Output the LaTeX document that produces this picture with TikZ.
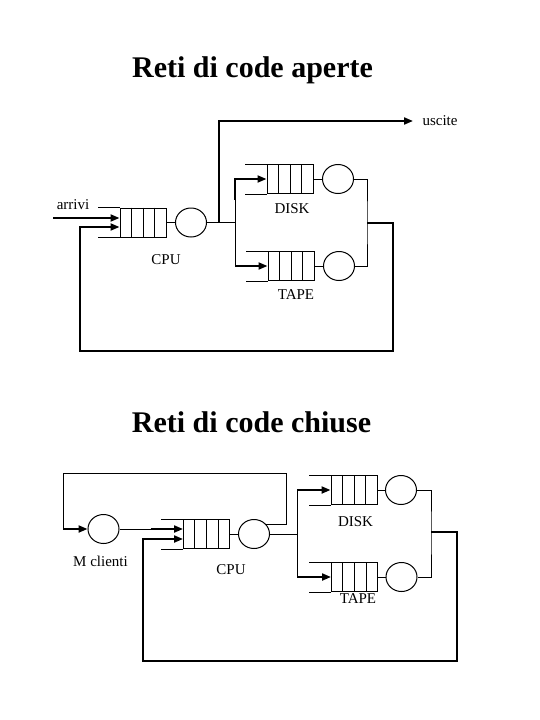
\documentclass[tikz,border=0pt]{standalone}
\usepackage{fontspec}
\setmainfont{Liberation Serif}
\usetikzlibrary{arrows.meta,calc,shapes.geometric}
\tikzset{
  queue/.style={draw,line width=1pt,minimum width=46pt,minimum height=29pt,inner sep=0pt},
  server/.style={draw,ellipse,line width=1pt,minimum width=31pt,minimum height=29pt,inner sep=0pt},
  lbl/.style={font=\fontsize{15}{18}\selectfont,inner sep=0pt,anchor=base},
  titolo/.style={font=\fontsize{30}{36}\selectfont\bfseries,inner sep=0pt,anchor=base},
  flusso/.style={line width=2pt},
  freccia/.style={flusso,-{Triangle[length=9pt,width=7pt]}}
}
\begin{document}
\begin{tikzpicture}[x=1pt,y=-1pt,line width=1pt]
\useasboundingbox (0,0) rectangle (540,720);
\node[titolo] (tit1) at (252.5,77) {Reti di code aperte};
\node[queue] (cpuA) at (143,222.5) {};
\node[server] (cpuAs) at (191,222.5) {};
\node[queue] (diskA) at (290,179) {};
\node[server] (diskAs) at (338,179) {};
\node[queue] (tapeA) at (291,266) {};
\node[server] (tapeAs) at (339,266) {};
\node[lbl] (arrivi) at (73,209) {arrivi};
\node[lbl,anchor=west,inner xsep=9pt] (uscite) at (413,121) {uscite};
\node[lbl] (cpuAl) at (166,264) {CPU};
\node[lbl] (diskAl) at (292,213) {DISK};
\node[lbl] (tapeAl) at (296,299) {TAPE};
\coordinate (arr) at (53,218);
\coordinate (usc) at (219,222.5);
\coordinate (splitA) at (235,222.5);
\coordinate (joinA) at (367,222.5);
\coordinate (loopA) at (393,351);
\coordinate (retA) at (80,351);
\draw[freccia] (arr) -- ([yshift=4.5pt]cpuA.west);
\draw (cpuA.east) -- (cpuAs.west);
\draw (cpuAs.east) -- (splitA);
\draw[freccia] (usc) |- (uscite.west);
\draw (splitA |- diskA.west) -- (splitA |- tapeA.west);
\draw[freccia] ($(splitA |- diskA.west)+(0,-21pt)$) |- (diskA.west);
\draw[freccia] (splitA |- tapeA.west) -- (tapeA.west);
\draw (diskA.east) -- (diskAs.west);
\draw (tapeA.east) -- (tapeAs.west);
\draw (diskAs.east) -| (joinA) |- (tapeAs.east);
\draw[freccia] (joinA) -| (loopA) -- (retA) |- ([yshift=-4.5pt]cpuA.west);
\node[titolo] (tit2) at (251.5,432) {Reti di code chiuse};
\node[server] (mcl) at (103.5,529) {};
\node[queue] (cpuB) at (206.5,534) {};
\node[server] (cpuBs) at (254,534) {};
\node[queue] (diskB) at (354,490) {};
\node[server] (diskBs) at (401,490) {};
\node[queue] (tapeB) at (354.5,577) {};
\node[server] (tapeBs) at (401.5,577) {};
\node[lbl] (mcll) at (100.5,566) {M clienti};
\node[lbl] (cpuBl) at (231,574) {CPU};
\node[lbl] (diskBl) at (355.5,526) {DISK};
\node[lbl] (tapeBl) at (358,603) {TAPE};
\coordinate (topR) at (286,473);
\coordinate (topL) at (63,473);
\coordinate (splitB) at (297,534);
\coordinate (joinB) at (431,532);
\coordinate (loopB) at (457,661);
\coordinate (retB) at (143,661);
\draw (cpuBs.40) -| (topR) -- (topL) -- (topL |- mcl.west);
\draw[freccia] (topL |- mcl.west) -- (mcl.west);
\draw (mcl.east) -- ++(31pt,0) coordinate (mclO);
\draw[freccia] (mclO) -- ([yshift=5pt]cpuB.west);
\draw (cpuB.east) -- (cpuBs.west);
\draw (cpuBs.east) -- (splitB);
\draw (splitB |- diskB.west) -- (splitB |- tapeB.west);
\draw[freccia] (splitB |- diskB.west) -- (diskB.west);
\draw[freccia] (splitB |- tapeB.west) -- (tapeB.west);
\draw (diskB.east) -- (diskBs.west);
\draw (tapeB.east) -- (tapeBs.west);
\draw (diskBs.east) -| (joinB) |- (tapeBs.east);
\draw[freccia] (joinB) -| (loopB) -- (retB) |- ([yshift=-5pt]cpuB.west);
\foreach \q in {cpuA,diskA,tapeA,cpuB,diskB,tapeB} {
  \foreach \k in {1,2,3}
    \draw ($(\q.north west)!\k/4!(\q.north east)$) -- ($(\q.south west)!\k/4!(\q.south east)$);
  \draw (\q.north west) -- ++(-22pt,0);
  \draw (\q.south west) -- ++(-22pt,0);
}
\end{tikzpicture}
\end{document}
